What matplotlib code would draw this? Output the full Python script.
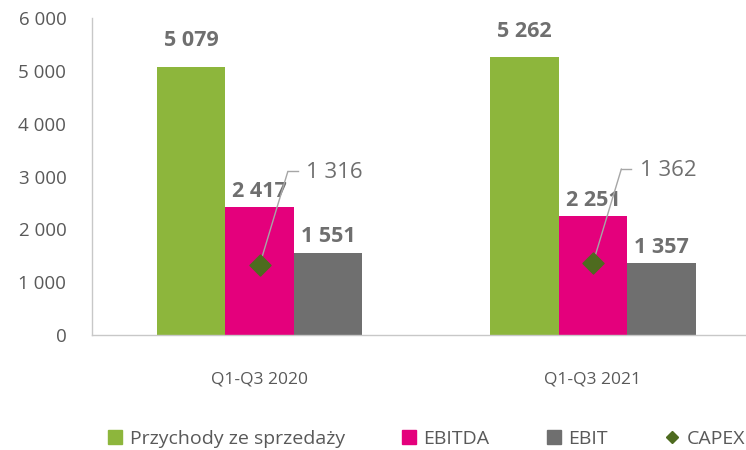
import matplotlib
matplotlib.use("Agg")
import matplotlib.pyplot as plt
from matplotlib.patches import Patch
from matplotlib.lines import Line2D
import numpy as np

plt.rcParams['font.family'] = ['Open Sans', 'DejaVu Sans']

categories = ["Q1-Q3 2020", "Q1-Q3 2021"]
przychody = [5079, 5262]
ebitda = [2417, 2251]
ebit = [1551, 1357]
capex = [1316, 1362]
series_names = ["Przychody ze sprzedaży", "EBITDA", "EBIT", "CAPEX"]
yticks = [0, 1000, 2000, 3000, 4000, 5000, 6000]

def fmt(v):
    return f"{v:,}".replace(",", " ")

c_green = "#8DB63C"
c_mag = "#E4007C"
c_grey = "#6F6F6F"
c_capex = "#4E6B1F"
c_text = "#595959"
c_lbl = "#6F6F6F"

fig = plt.figure(figsize=(7.46, 4.5), dpi=100)
ax = fig.add_axes([92/746, 1-335/450, 1-92/746, (335-18)/450])

x = np.arange(len(categories))
w = 0.205
ax.bar(x - w, przychody, w, color=c_green)
ax.bar(x, ebitda, w, color=c_mag)
ax.bar(x + w, ebit, w, color=c_grey)
ax.scatter(x, capex, marker="D", s=115, color=c_capex, zorder=5)

for i in range(len(categories)):
    ax.annotate(fmt(przychody[i]), (x[i] - w, przychody[i]), xytext=(0, 11),
                textcoords="offset points", ha="center", va="bottom",
                fontsize=15.5, fontweight="bold", color=c_lbl)
    ax.annotate(fmt(ebitda[i]), (x[i], ebitda[i]), xytext=(0, 4),
                textcoords="offset points", ha="center", va="bottom",
                fontsize=15.5, fontweight="bold", color=c_lbl)
    ax.annotate(fmt(ebit[i]), (x[i] + w, ebit[i]), xytext=(0, 4),
                textcoords="offset points", ha="center", va="bottom",
                fontsize=15.5, fontweight="bold", color=c_lbl)
    # CAPEX leader line + label
    x0, y0 = x[i], capex[i]
    ax.annotate("", xy=(x0, y0), xytext=(x0 + 0.085, y0 + 1780),
                arrowprops=dict(arrowstyle="-", color="#A6A6A6", lw=1,
                                shrinkA=0, shrinkB=0))
    ax.plot([x0 + 0.085, x0 + 0.115], [y0 + 1780, y0 + 1780], color="#A6A6A6", lw=1)
    ax.text(x0 + 0.14, y0 + 1760, fmt(capex[i]), ha="left", va="center",
            fontsize=16, color=c_lbl)

ax.set_xlim((92 - 259.5) / 333.5, (746 - 259.5) / 333.5)
ax.set_ylim(0, 6000)
ax.set_yticks(yticks)
ax.set_yticklabels([fmt(v) for v in yticks], fontsize=13.5, color=c_text)
ax.set_xticks(x)
ax.set_xticklabels(categories, fontsize=12.5, color=c_text)
ax.tick_params(axis="both", length=0)
ax.tick_params(axis="y", pad=18.5)
ax.tick_params(axis="x", pad=26)
for s in ["top", "right"]:
    ax.spines[s].set_visible(False)
for s in ["left", "bottom"]:
    ax.spines[s].set_color("#C8C8C8")
    ax.spines[s].set_linewidth(1)

handles = [Patch(color=c_green), Patch(color=c_mag), Patch(color=c_grey),
           Line2D([], [], marker="D", color=c_capex, ls="none", markersize=6)]
fig.legend(handles, series_names, loc="center", bbox_to_anchor=(0.572, 1 - 439/450),
           ncol=4, frameon=False, fontsize=14, labelcolor=c_text,
           handlelength=0.7, handleheight=0.7, handletextpad=0.4, columnspacing=2.95)

fig.savefig("out.png", dpi=100)
